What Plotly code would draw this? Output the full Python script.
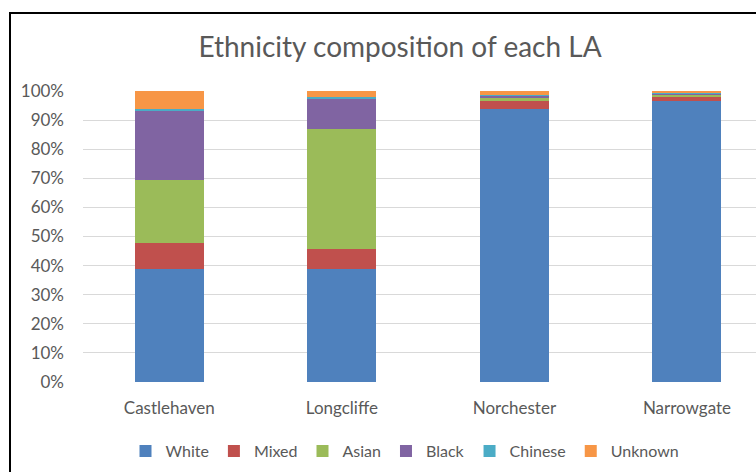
import plotly.graph_objects as go

categories = ["Castlehaven", "Longcliffe", "Norchester", "Narrowgate"]
white = [0.390, 0.390, 0.937, 0.967]
mixed = [0.088, 0.066, 0.029, 0.014]
asian = [0.216, 0.412, 0.013, 0.006]
black = [0.237, 0.105, 0.005, 0.004]
chinese = [0.007, 0.006, 0.003, 0.002]
unknown = [0.062, 0.021, 0.013, 0.007]

series = [
    ("White", white, "#4F81BD"),
    ("Mixed", mixed, "#C0504D"),
    ("Asian", asian, "#9BBB59"),
    ("Black", black, "#8064A2"),
    ("Chinese", chinese, "#4BACC6"),
    ("Unknown", unknown, "#F79646"),
]

W, H = 756, 472
L, R, T, B = 83, 0, 91, 90
pw = W - L - R
ph = H - T - B

def px_x(p):
    return (p - L) / pw

def px_y(p):
    return (H - B - p) / ph

fig = go.Figure()
for name, vals, col in series:
    fig.add_trace(go.Bar(x=categories, y=vals, name=name, marker_color=col,
                         marker_line_width=0, width=0.4))

font = "Lato, 'Open Sans', sans-serif"
fig.update_layout(
    width=W, height=H,
    margin=dict(l=L, r=R, t=T, b=B, autoexpand=False),
    barmode="stack",
    paper_bgcolor="white", plot_bgcolor="white",
    font=dict(family=font, color="#595959", size=17),
    title=dict(text="Ethnicity composition of each LA", x=px_x(400), xref="paper",
               y=1 - 47 / H, yanchor="middle", xanchor="center",
               font=dict(size=28, color="#595959", family=font)),
    xaxis=dict(range=[-0.5, 3.4], showgrid=False, showline=False, ticks="",
               ticklabelstandoff=14,
               tickfont=dict(size=17, color="#595959")),
    yaxis=dict(range=[0, 1], tickvals=[i / 10 for i in range(11)], tickformat=".0%",
               showgrid=True, gridcolor="#d9d9d9", gridwidth=1, zeroline=False,
               showline=False, ticks="", ticklen=0, ticklabelstandoff=18,
               tickfont=dict(size=17, color="#595959")),
    legend=dict(orientation="h", x=px_x(405), xanchor="center", y=px_y(451),
                yanchor="middle", font=dict(size=16, color="#595959"),
                traceorder="normal", itemwidth=30, tracegroupgap=0),
    showlegend=True,
)
fig.add_shape(type="rect", xref="paper", yref="paper",
              x0=px_x(10), x1=px_x(800), y0=px_y(520), y1=px_y(13),
              line=dict(color="black", width=2), fillcolor="rgba(0,0,0,0)", layer="above")

fig.write_html("out.html", config={"displayModeBar": False},
               post_script="document.body.style.margin='0';")
